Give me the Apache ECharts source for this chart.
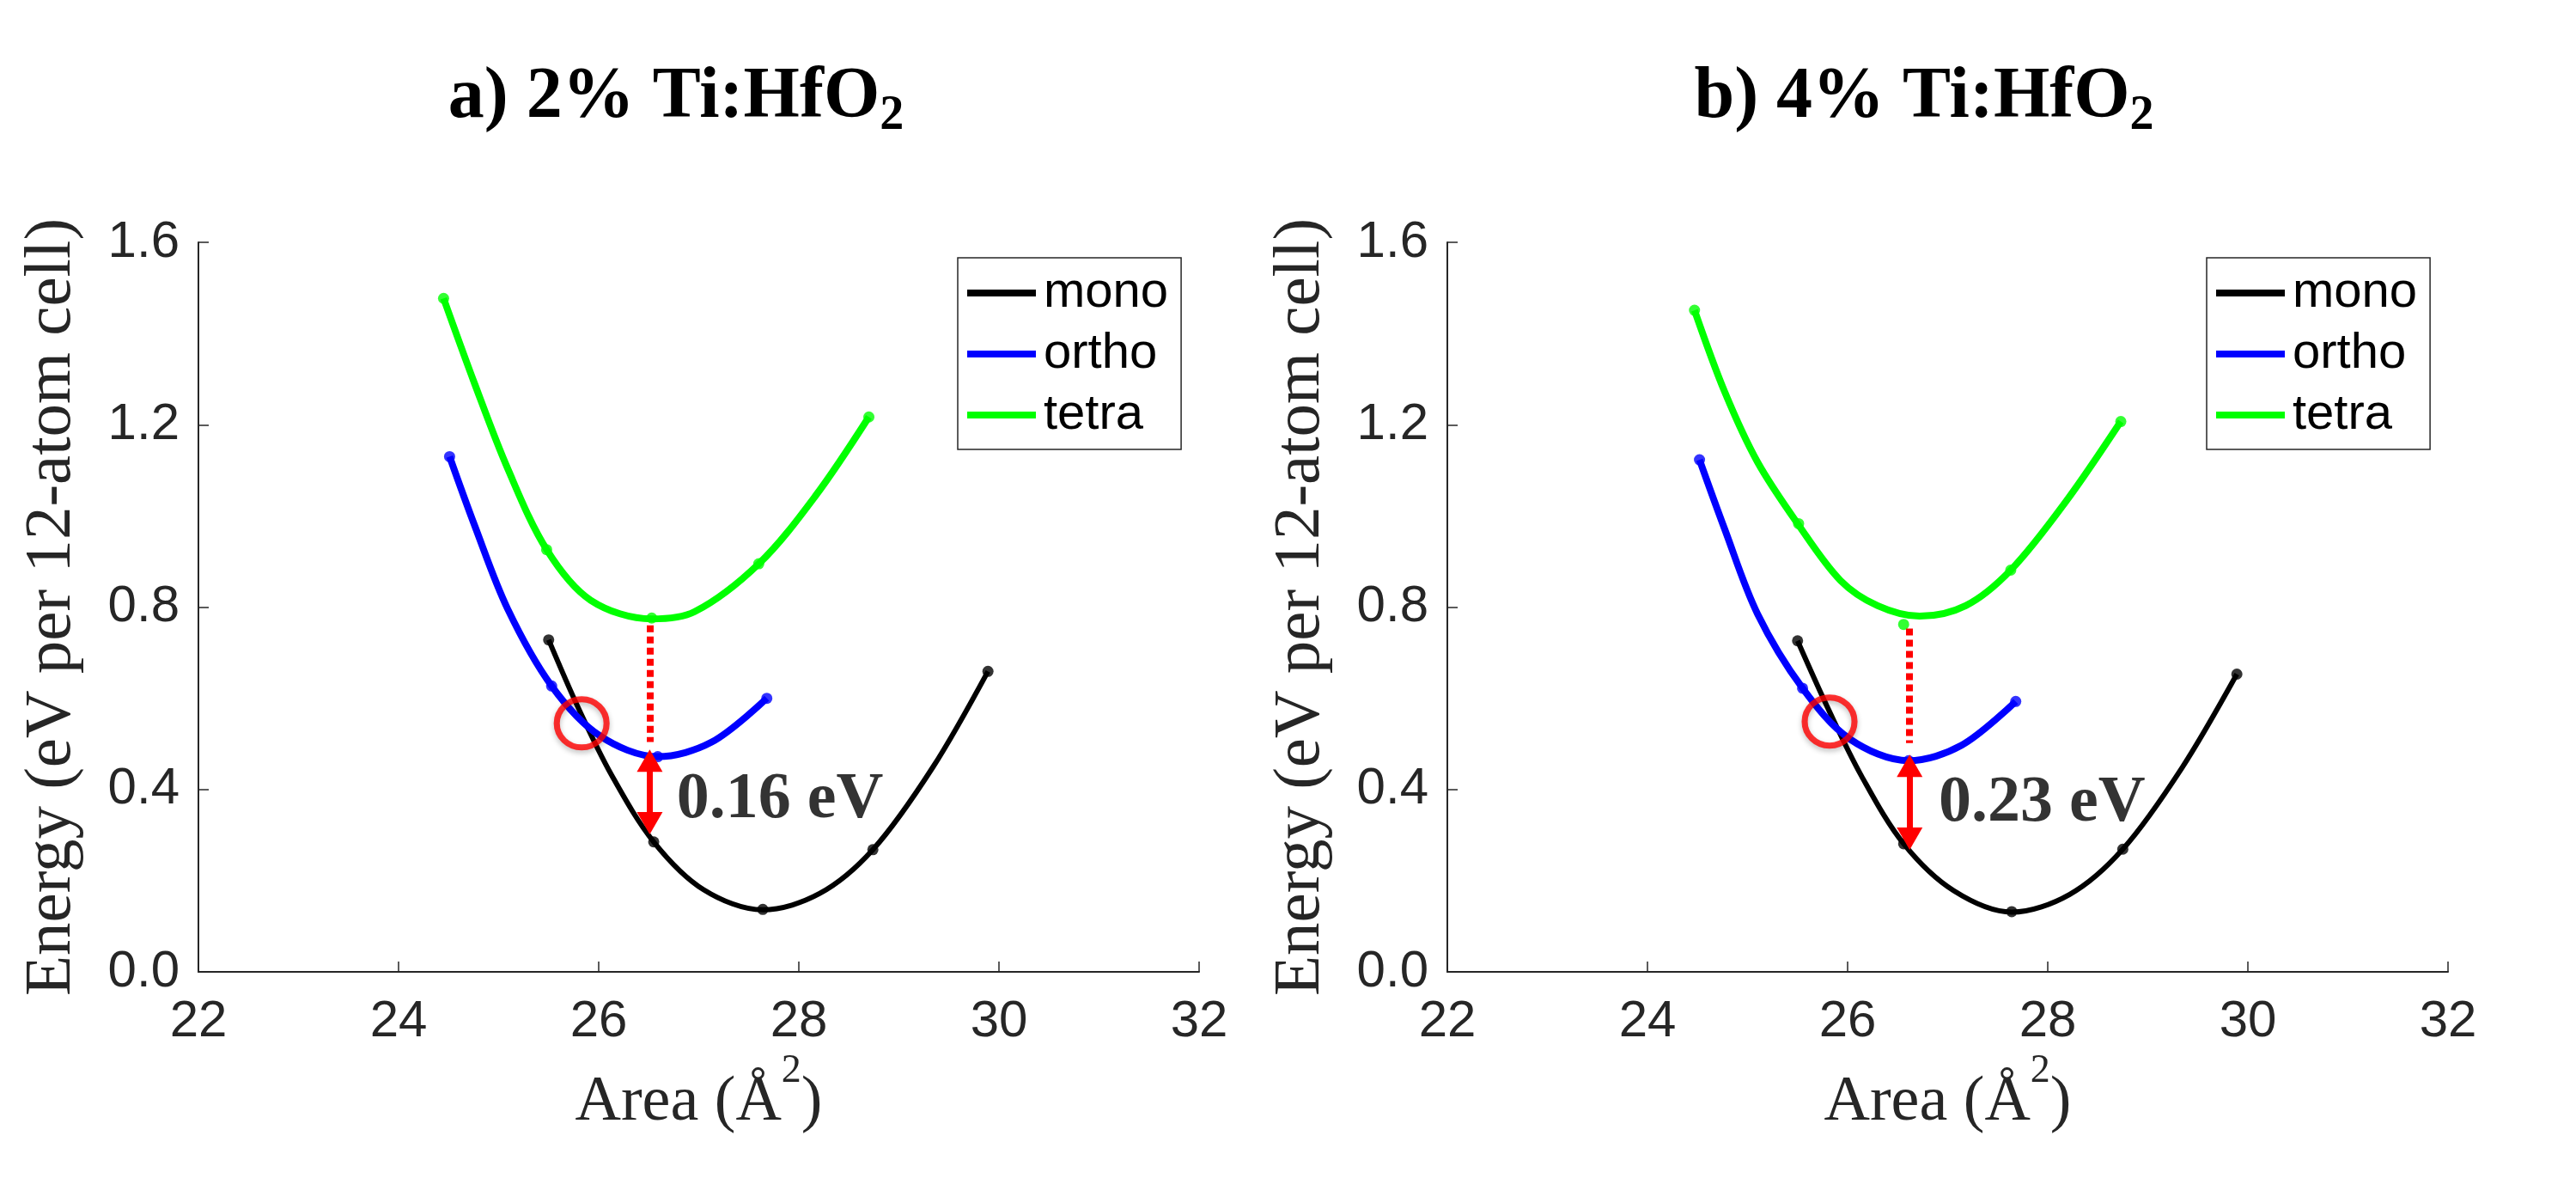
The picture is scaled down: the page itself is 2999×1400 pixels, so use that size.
<!DOCTYPE html>
<html>
<head>
<meta charset="utf-8">
<script src="https://cdn.jsdelivr.net/npm/echarts@6/dist/echarts.min.js"></script>
<style>
  html, body { margin: 0; padding: 0; background: #fff; }
  #chart { width: 2999px; height: 1400px; }
</style>
</head>
<body>
<div id="chart"></div>
<script>
// axis ranges (Area in Å², Energy in eV per 12-atom cell)
const areaRange = [22, 32, 2]
const energyRange = [0, 1.6, 0.4]
const phases = ['mono', 'ortho', 'tetra']
const panelTitles = ['a) 2% Ti:HfO', 'b) 4% Ti:HfO']
const gapLabels = ['0.16 eV', '0.23 eV']

// a) 2% Ti:HfO2 -- computed points
const monoA = [[25.50, 0.728], [26.55, 0.285], [27.64, 0.137], [28.74, 0.268], [29.89, 0.659]]
const orthoA = [[24.51, 1.130], [25.53, 0.627], [26.59, 0.472], [27.68, 0.600]]
const tetraA = [[24.45, 1.477], [25.48, 0.926], [26.53, 0.776], [27.60, 0.895], [28.70, 1.217]]
// a) fitted curves
const monoFitA = [[25.50, 0.728], [25.80, 0.577], [26.13, 0.431], [26.55, 0.285], [27.05, 0.180], [27.64, 0.136], [28.21, 0.172], [28.74, 0.268], [29.34, 0.449], [29.89, 0.659]]
const orthoFitA = [[24.51, 1.130], [24.76, 0.979], [25.09, 0.796], [25.53, 0.627], [26.01, 0.518], [26.59, 0.472], [27.13, 0.504], [27.68, 0.600]]
const tetraFitA = [[24.45, 1.477], [24.76, 1.290], [25.09, 1.104], [25.48, 0.926], [25.92, 0.815], [26.53, 0.774], [26.96, 0.790], [27.60, 0.895], [28.17, 1.045], [28.70, 1.217]]

// b) 4% Ti:HfO2 -- computed points
const monoB = [[25.50, 0.726], [26.56, 0.281], [27.64, 0.132], [28.75, 0.269], [29.89, 0.653]]
const orthoB = [[24.52, 1.123], [25.55, 0.622], [26.61, 0.463], [27.68, 0.593]]
const tetraB = [[24.47, 1.451], [25.51, 0.983], [26.56, 0.762], [27.63, 0.881], [28.73, 1.207]]
// b) fitted curves
const monoFitB = [[25.50, 0.726], [25.81, 0.575], [26.14, 0.429], [26.56, 0.281], [27.06, 0.178], [27.64, 0.131], [28.22, 0.170], [28.75, 0.269], [29.34, 0.447], [29.89, 0.653]]
const orthoFitB = [[24.52, 1.123], [24.77, 0.972], [25.10, 0.785], [25.55, 0.622], [26.02, 0.511], [26.61, 0.463], [27.14, 0.497], [27.68, 0.593]]
const tetraFitB = [[24.47, 1.451], [24.77, 1.273], [25.10, 1.118], [25.51, 0.980], [25.93, 0.858], [26.30, 0.803], [26.72, 0.780], [27.18, 0.803], [27.63, 0.881], [28.18, 1.031], [28.73, 1.207]]

// annotations: crossing circle, dotted drop line, gap arrow, gap label anchor
const crossA = [25.83, 0.545]
const dropA = [[26.51, 0.760], [26.51, 0.504]]
const arrowA = [[26.51, 0.463], [26.51, 0.326]]
const labelA = [26.78, 0.377]
const crossB = [25.82, 0.549]
const dropB = [[26.62, 0.753], [26.62, 0.502]]
const arrowB = [[26.62, 0.452], [26.62, 0.292]]
const labelB = [26.91, 0.369]

const colors = { mono: '#000000', ortho: '#0000ff', tetra: '#00ff00' }
const axisColor = '#262626'
const sans = 'Liberation Sans, Arial, Helvetica, sans-serif'
const serif = 'Liberation Serif, Times New Roman, serif'

const chart = echarts.init(document.getElementById('chart'))

const panels = [
  { fits: [monoFitA, orthoFitA, tetraFitA], pts: [monoA, orthoA, tetraA], cross: crossA, drop: dropA, arrow: arrowA, label: labelA, left: 231, titleX: 787, legendX: 1115 },
  { fits: [monoFitB, orthoFitB, tetraFitB], pts: [monoB, orthoB, tetraB], cross: crossB, drop: dropB, arrow: arrowB, label: labelB, left: 1685, titleX: 2240, legendX: 2569 }
]

const red = '#ff0000'
const series = []
panels.forEach((p, i) => {
  phases.forEach((name, k) => {
    series.push({
      name,
      type: 'line',
      xAxisIndex: i,
      yAxisIndex: i,
      data: p.fits[k],
      smooth: 0.33,
      showSymbol: false,
      color: colors[name],
      lineStyle: { color: colors[name], width: name === 'mono' ? 6 : 8 },
      z: 2
    })
    series.push({
      name: name + ' pts',
      type: 'scatter',
      xAxisIndex: i,
      yAxisIndex: i,
      data: p.pts[k],
      symbolSize: 13,
      itemStyle: { color: colors[name] },
      z: 3
    })
  })
  // red dotted line and double arrow
  series.push({
    type: 'line',
    xAxisIndex: i,
    yAxisIndex: i,
    data: [],
    markLine: {
      silent: true,
      animation: false,
      label: { show: false },
      data: [
        [
          { coord: p.drop[0], symbol: 'none', lineStyle: { type: [8, 5], width: 8, color: red } },
          { coord: p.drop[1], symbol: 'none', lineStyle: { type: [8, 5], width: 8, color: red } }
        ],
        [
          { coord: p.arrow[0], symbol: 'triangle', symbolSize: [30, 26], lineStyle: { type: 'solid', width: 7, color: red } },
          { coord: p.arrow[1], symbol: 'triangle', symbolSize: [30, 26], lineStyle: { type: 'solid', width: 7, color: red } }
        ]
      ],
      lineStyle: { color: red, width: 7 },
      itemStyle: { color: red }
    }
  })
  // red crossing circle
  series.push({
    type: 'scatter',
    xAxisIndex: i,
    yAxisIndex: i,
    data: [p.cross],
    symbolSize: [58, 56],
    itemStyle: {
      color: 'rgba(0,0,0,0)',
      borderColor: red,
      borderWidth: 7,
      shadowColor: 'rgba(0,0,0,0.3)',
      shadowBlur: 6,
      shadowOffsetY: 3
    },
    z: 5
  })
  // gap value label
  series.push({
    type: 'scatter',
    xAxisIndex: i,
    yAxisIndex: i,
    data: [p.label],
    symbolSize: 0,
    label: {
      show: true,
      position: 'inside',
      align: 'left',
      verticalAlign: 'middle',
      formatter: gapLabels[i],
      fontFamily: serif,
      fontWeight: 'bold',
      fontSize: 76,
      color: '#000'
    },
    z: 6
  })
})

const option = {
  backgroundColor: '#ffffff',
  animation: false,
  title: panels.map((p, i) => ({
    text: '{t|' + panelTitles[i] + '}{s|2}',
    left: p.titleX,
    top: 64,
    padding: 0,
    textAlign: 'center',
    textStyle: {
      rich: {
        t: { fontFamily: serif, fontWeight: 'bold', fontSize: 84, lineHeight: 100, color: '#000' },
        s: { fontFamily: serif, fontWeight: 'bold', fontSize: 56, lineHeight: 34, verticalAlign: 'bottom', color: '#000' }
      }
    }
  })),
  legend: panels.map(p => ({
    data: phases.map(n => ({ name: n, icon: 'rect' })),
    orient: 'vertical',
    left: p.legendX,
    top: 300,
    itemWidth: 80,
    itemHeight: 8,
    itemGap: 13,
    padding: [12, 15, 11, 11],
    borderColor: axisColor,
    borderWidth: 1.5,
    backgroundColor: '#fff',
    selectedMode: false,
    textStyle: { fontFamily: sans, fontSize: 58, lineHeight: 58, color: '#000', padding: [0, 0, 0, 4] }
  })),
  grid: panels.map(p => ({ left: p.left, top: 282, width: 1165, height: 849, containLabel: false })),
  xAxis: panels.map((p, i) => ({
    type: 'value',
    gridIndex: i,
    min: areaRange[0],
    max: areaRange[1],
    interval: areaRange[2],
    name: '{t|Area (Å}{s|2}{t|)}',
    nameLocation: 'middle',
    nameGap: 86,
    nameTextStyle: {
      rich: {
        t: { fontFamily: serif, fontSize: 74, lineHeight: 120, color: axisColor },
        s: { fontFamily: serif, fontSize: 46, lineHeight: 50, verticalAlign: 'top', color: axisColor }
      }
    },
    axisLine: { show: true, lineStyle: { color: axisColor, width: 2 } },
    axisTick: { show: true, inside: true, length: 12, lineStyle: { color: axisColor, width: 1.5 } },
    axisLabel: { fontFamily: sans, fontSize: 60, color: axisColor, margin: 28 },
    splitLine: { show: false }
  })),
  yAxis: panels.map((p, i) => ({
    type: 'value',
    gridIndex: i,
    min: energyRange[0],
    max: energyRange[1],
    interval: energyRange[2],
    name: '{t|Energy (eV per 12-atom cell)}',
    nameLocation: 'middle',
    nameGap: 132,
    nameTextStyle: {
      rich: {
        t: { fontFamily: serif, fontSize: 77, lineHeight: 77, color: axisColor }
      }
    },
    axisLine: { show: true, lineStyle: { color: axisColor, width: 2 } },
    axisTick: { show: true, inside: true, length: 12, lineStyle: { color: axisColor, width: 1.5 } },
    axisLabel: { fontFamily: sans, fontSize: 60, color: axisColor, margin: 22, formatter: v => v.toFixed(1) },
    splitLine: { show: false }
  })),
  series
}

chart.setOption(option)
</script>
</body>
</html>
